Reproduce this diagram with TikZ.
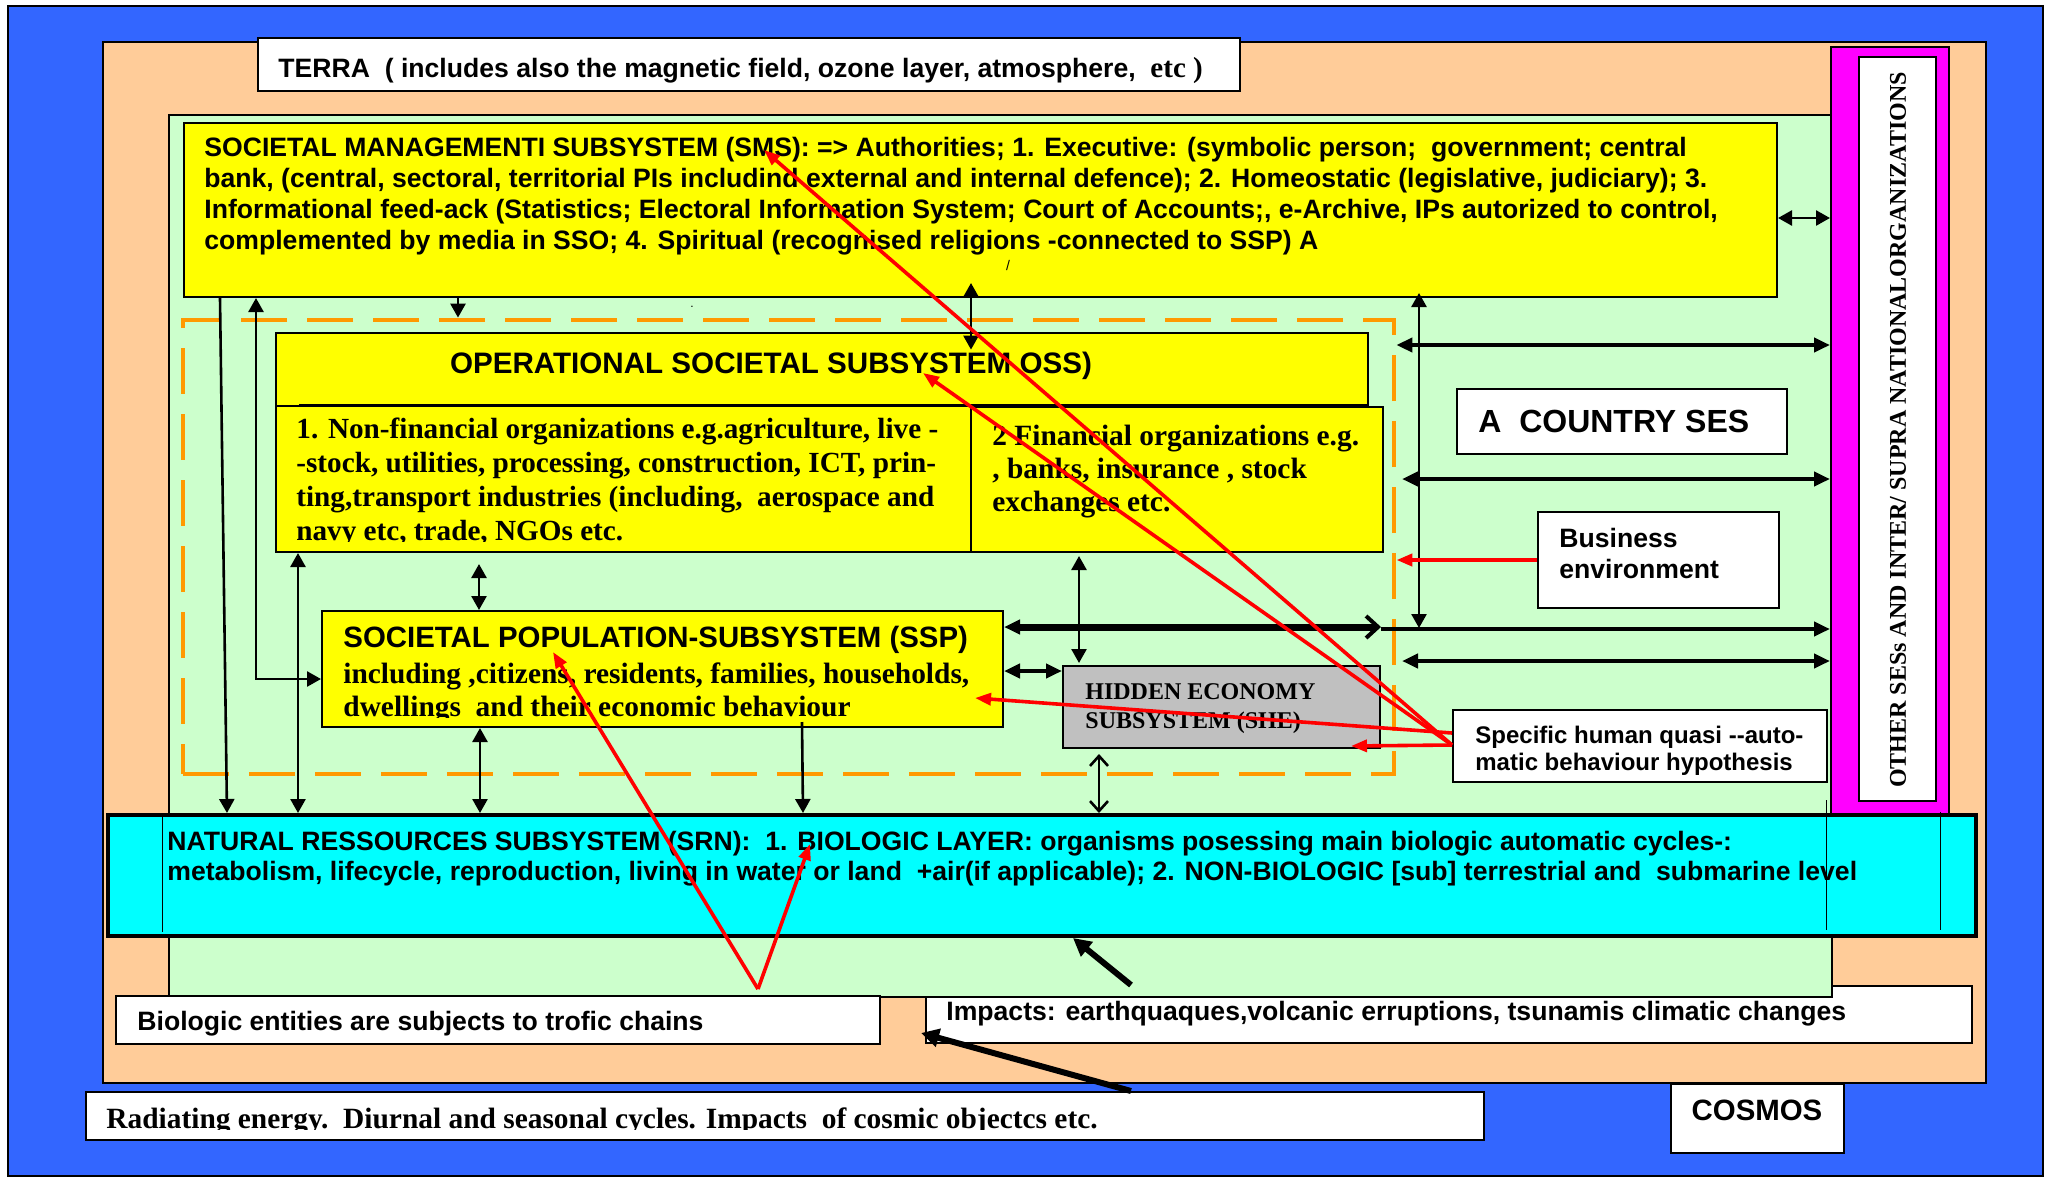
\documentclass[tikz,border=0pt]{standalone}
\usepackage{fontspec}
\setmainfont{Liberation Serif}
\setsansfont{Liberation Sans}
\usetikzlibrary{arrows.meta,fit,calc}
\definecolor{cosmosblue}{RGB}{51,102,255}
\definecolor{terrapeach}{RGB}{255,204,153}
\definecolor{sesgreen}{RGB}{204,255,204}
\definecolor{boxyellow}{RGB}{255,255,0}
\definecolor{srncyan}{RGB}{0,255,255}
\definecolor{intmag}{RGB}{255,0,255}
\definecolor{shegray}{RGB}{192,192,192}
\definecolor{framorange}{RGB}{255,153,0}
\definecolor{linkred}{RGB}{255,0,0}
\newcommand\fsz[2]{\fontsize{#1}{#2}\selectfont}
\tikzset{
  area/.style={draw=black, line width=1pt, inner sep=0pt},
  txt/.style={inner sep=0pt, align=left},
  Hd/.tip={Triangle[length=7pt,width=7.5pt]},
  Hb/.tip={Triangle[length=8pt,width=7pt]},
  Br/.tip={Straight Barb[length=5pt,width=9pt,line width=1.3pt]},
  arw/.style={line width=1.3pt, -Hd},
  darw/.style={line width=1.3pt, Hd-Hd},
  harw/.style={line width=2pt, Hb-Hb},
  redarw/.style={draw=linkred, line width=1.8pt, -{Triangle[length=8pt,width=6pt]}},
  thickarw/.style={line width=3pt, -{Triangle[length=9pt,width=9pt]}},
  thinrule/.style={line width=0.5pt}
}
\begin{document}
\begin{tikzpicture}[x=0.5pt,y=-0.5pt]
\useasboundingbox (0,0) rectangle (2047,1179);
% ---------- nested environments ----------
\node[area, fill=cosmosblue, fit={(8,6) (2043,1176)}] (cosmosbg) {};
\node[area, fill=terrapeach, fit={(103,42) (1986,1083)}] (terrabg) {};
\node[area, fill=white, fit={(258,38) (1240,91)}] (terrabox) {};
\node[txt, anchor=base west, font=\sffamily\bfseries\fsz{13.3}{15}] (terratext) at (278,77)
  {TERRA\ \ ( includes also the magnetic field, ozone layer, atmosphere,\ \ {\rmfamily\fsz{14.5}{16}etc )}};
\node[area, fill=white, fit={(926,986) (1972,1043)}] (impbox) {};
\node[area, fill=sesgreen, fit={(169,115) (1832,997)}] (ses) {};
\node[area, fill=intmag, fit={(1831,47) (1949,815)}] (mag) {};
\node[area, fill=white, fit={(1859,57) (1936,801)}] (maginner) {};
\node[inner sep=0pt, rotate=90, font=\rmfamily\bfseries\fsz{12}{14}] (magtext) at (1898,430)
  {OTHER SESs AND INTER/ SUPRA NATIONALORGANIZATIONS};
% ---------- SMS ----------
\node[area, fill=boxyellow, fit={(184,123) (1777,297)}] (sms) {};
\node[txt, anchor=north west, font=\sffamily\bfseries\fsz{13.3}{15.4}] (smstext) at (204,137)
  {SOCIETAL MANAGEMENTI SUBSYSTEM (SMS): => Authorities; 1. Executive: (symbolic person;\ \ government; central\\
   bank, (central, sectoral, territorial PIs includind external and internal defence); 2. Homeostatic (legislative, judiciary); 3.\\
   Informational feed-ack (Statistics; Electoral Information System; Court of Accounts;, e-Archive, IPs autorized to control,\\
   complemented by media in SSO; 4. Spiritual (recognised religions -connected to SSP) A};
\node[txt, font=\sffamily\fsz{7}{8}] (slash) at (1008,265) {/};
\node[txt, font=\sffamily\fsz{6}{7}] (dot) at (692,307) {.};
% ---------- OSS ----------
\node[draw=framorange, line width=2.4pt, dash pattern=on 23pt off 10pt, inner sep=0pt, fit={(183,320) (1394,774)}] (ossframe) {};
\fill[boxyellow] (276,333) rectangle (1368,406);
\node[area, fill=boxyellow, fit={(276,406) (971,552)}] (fin1) {};
\draw[line width=1pt] (276,552) -- (276,333) -- (1368,333) -- (1368,406);
\node[inner sep=0pt, fit={(276,333) (1368,406)}] (osstitlebox) {};
\draw[line width=1.2pt] (299,405) -- (1368,405);
\node[area, fill=boxyellow, fit={(971,407) (1383,552)}] (fin2) {};
\node[txt, anchor=base, font=\sffamily\bfseries\fsz{14.8}{16}] (osstitle) at (771,373)
  {OPERATIONAL SOCIETAL SUBSYSTEM OSS)};
\begin{scope}
\clip (276,406) rectangle (971,541);
\node[txt, anchor=north west, font=\rmfamily\bfseries\fsz{14.6}{17}] (fin1text) at (296,418)
  {1. Non-financial organizations e.g.agriculture, live -\\
   -stock, utilities, processing, construction, ICT, prin-\\
   ting,transport industries (including,\ \ aerospace and\\
   navy etc, trade, NGOs etc.};
\end{scope}
\node[txt, anchor=north west, font=\rmfamily\bfseries\fsz{14.7}{16.5}] (fin2text) at (992,425)
  {2 Financial organizations e.g.\\
   , banks, insurance , stock\\
   exchanges etc.};
% ---------- SSP ----------
\node[area, fill=boxyellow, fit={(322,611) (1003,727)}] (ssp) {};
\node[txt, anchor=base west, font=\sffamily\bfseries\fsz{14.7}{16}] (ssptitle) at (343,647)
  {SOCIETAL POPULATION-SUBSYSTEM (SSP)};
\begin{scope}
\clip (322,611) rectangle (1003,717);
\node[txt, anchor=north west, font=\rmfamily\bfseries\fsz{14.7}{16.5}] (ssptext) at (343,662)
  {including ,citizens, residents, families, households,\\
   dwellings\ \ and their economic behaviour};
\end{scope}
% ---------- SHE ----------
\node[area, fill=shegray, fit={(1063,666) (1380,748)}] (she) {};
\node[txt, anchor=north west, font=\rmfamily\bfseries\fsz{12}{14.5}] (shetext) at (1085,683)
  {HIDDEN ECONOMY\\ SUBSYSTEM (SHE)};
% ---------- right side boxes ----------
\node[area, fill=white, fit={(1457,389) (1787,454)}] (country) {};
\node[txt, anchor=base west, font=\sffamily\bfseries\fsz{16}{18}] (countrytext) at (1478,432)
  {A\ \ COUNTRY SES};
\node[area, fill=white, fit={(1538,512) (1779,608)}] (biz) {};
\node[txt, anchor=north west, font=\sffamily\bfseries\fsz{13.3}{15.5}] (biztext) at (1559,528)
  {Business\\ environment};
\node[area, fill=white, fit={(1453,710) (1827,782)}] (spec) {};
\node[txt, anchor=north west, font=\sffamily\bfseries\fsz{12}{13.5}] (spectext) at (1475,726)
  {Specific human quasi -{}-auto-\\ matic behaviour hypothesis};
% ---------- SRN ----------
\node[draw=black, line width=2pt, inner sep=0pt, fill=srncyan, fit={(108,815) (1976,936)}] (srn) {};
\draw[thinrule] (162,815) -- (162,932);
\draw[thinrule] (1826,800) -- (1826,930);
\draw[thinrule] (1940,812) -- (1940,930);
\node[txt, anchor=north west, font=\sffamily\bfseries\fsz{13.3}{15}] (srntext) at (167,831)
  {NATURAL RESSOURCES SUBSYSTEM (SRN):\ \ 1. BIOLOGIC LAYER: organisms posessing main biologic automatic cycles-:\\
   metabolism, lifecycle, reproduction, living in water or land\ \ +air(if applicable); 2. NON-BIOLOGIC [sub] terrestrial and\ \ submarine level};
% ---------- bottom boxes ----------
\node[area, fill=white, fit={(116,996) (880,1044)}] (bio) {};
\node[txt, anchor=base west, font=\sffamily\bfseries\fsz{13.3}{15}] (biotext) at (137,1030)
  {Biologic entities are subjects to trofic chains};
\node[txt, anchor=base west, font=\sffamily\bfseries\fsz{13.3}{15}] (imptext) at (946,1020)
  {Impacts: earthquaques,volcanic erruptions, tsunamis climatic changes};
\node[area, fill=white, fit={(86,1092) (1484,1140)}] (rad) {};
\begin{scope}
\clip (86,1092) rectangle (1484,1129);
\node[txt, anchor=base west, font=\rmfamily\bfseries\fsz{14.7}{16}] (radtext) at (106,1128)
  {Radiating energy.\ \ Diurnal and seasonal cycles. Impacts\ \ of cosmic objectcs etc.};
\end{scope}
\node[area, fill=white, fit={(1671,1084) (1844,1153)}] (cosmos) {};
\node[txt, anchor=base, font=\sffamily\bfseries\fsz{14.7}{16}] (cosmostext) at (1757,1120) {COSMOS};
% ---------- black connectors ----------
\draw[darw] (sms.east |- 0,218) -- (mag.west |- 0,218);
\draw[arw] (220,0 |- sms.south) -- (227,0 |- srn.north);
\draw[darw] (298,0 |- fin1.south) -- (298,0 |- srn.north);
\draw[darw] (ssp.west |- 0,679) -| (256,0 |- sms.south);
\draw[arw] (458,0 |- sms.south) -- (458,0 |- ossframe.north);
\draw[darw] ($(971,0 |- sms.south)+(0,-15)$) -- ($(971,0 |- osstitlebox.north)+(0,17)$);
\draw[darw] ($(1419,0 |- sms.south)+(0,-5)$) -- (1419,628);
\draw[harw] (ossframe.east |- 0,345) -- (mag.west |- 0,345);
\draw[harw] (1402,479) -- (mag.west |- 0,479);
\draw[line width=3.5pt, Hb-{Straight Barb[length=6pt,width=11pt,line width=2pt]}] (ssp.east |- 0,627) -- (1381,627);
\draw[line width=2pt, -Hb] (1381,629) -- (mag.west |- 0,629);
\draw[harw] (1402,661) -- (mag.west |- 0,661);
\draw[darw] ($(1079,0 |- fin2.south)+(0,3)$) -- ($(1079,0 |- she.north)+(0,-2)$);
\draw[line width=2.4pt, Hb-Hb] (ssp.east |- 0,671) -- (she.west |- 0,671);
\draw[line width=1.3pt, Br-Br] ($(1099,0 |- she.south)+(0,5)$) -- (1099,0 |- srn.north);
\draw[darw] ($(479,0 |- fin1.south)+(0,11)$) -- (479,0 |- ssp.north);
\draw[darw] (480,0 |- ssp.south) -- (480,0 |- srn.north);
\draw[arw] (802,722) -- (803,0 |- srn.north);
\draw[thickarw] (1131,0 |- impbox.north) -- (1073,0 |- srn.south);
\draw[thickarw] (1131,0 |- rad.north) -- (921,1033);
% ---------- red connectors ----------
\draw[redarw, line width=2.4pt] (biz.west) -- (ossframe.east |- biz.west);
\coordinate (specapex) at (spec.west |- 0,745);
\coordinate (specapexb) at (spec.west |- 0,733);
\draw[redarw] (specapex) -- (764,150);
\draw[redarw] (specapex) -- (923,373);
\draw[redarw] (specapexb) -- (975,698);
\draw[redarw] (specapex) -- (1351,746);
\coordinate (bioapex) at (758,989);
\draw[redarw] (bioapex) -- (553,652);
\draw[redarw] (bioapex) -- (810,844);
\end{tikzpicture}
\end{document}
